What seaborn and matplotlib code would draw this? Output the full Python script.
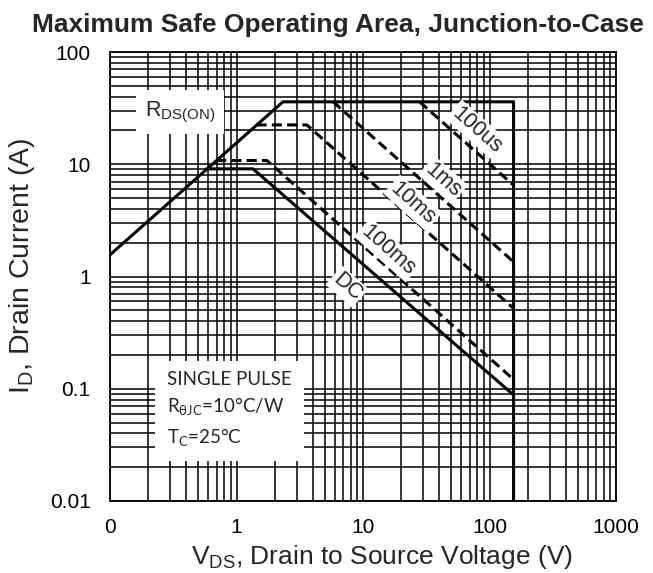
import matplotlib
matplotlib.use("Agg")
import matplotlib.pyplot as plt
import seaborn as sns
import numpy as np
from matplotlib.ticker import FixedLocator, FixedFormatter, LogLocator, NullFormatter

# ---------------- data ----------------
env_v = [0.1, 2.33, 155, 155]
env_i = [1.56, 36, 36, 0.01]
us100_v = [28, 155]
us100_i = [36, 6.5]
ms1_v = [5.8, 155]
ms1_i = [36, 1.35]
ms10_v = [1.44, 3.6, 155]
ms10_i = [22.4, 22.4, 0.52]
ms100_v = [0.69, 1.74, 155]
ms100_i = [10.8, 10.8, 0.121]
dc_v = [0.58, 1.35, 155]
dc_i = [9.1, 9.1, 0.088]

x_ticks = [0.1, 1, 10, 100, 1000]
x_labels = ["0", "1", "10", "100", "1000"]
y_ticks = [0.01, 0.1, 1, 10, 100]
y_labels = ["0.01", "0.1", "1", "10", "100"]

curve_names = ["100us", "1ms", "10ms", "100ms", "DC"]
name_v = [79.6, 42.9, 24.8, 15.8, 7.48]
name_i = [20.2, 7.24, 4.52, 1.72, 0.81]

title = "Maximum Safe Operating Area, Junction-to-Case"
xlabel = r"V$_\mathregular{DS}$, Drain to Source Voltage (V)"
ylabel = r"I$_\mathregular{D}$, Drain Current (A)"
note = "SINGLE PULSE\nR$_\\mathregular{θJC}$=10°C/W\nT$_\\mathregular{C}$=25°C"

# ---------------- style ----------------
sns.set_style("white")
plt.rcParams["font.family"] = ["Liberation Sans", "DejaVu Sans"]

fig = plt.figure(figsize=(6.53, 5.73), dpi=100)
ax = fig.add_axes([110 / 653, 1 - 501 / 573, 506 / 653, 449 / 573])

LW = 2.2
dash = (0, (3.3, 1.7))
series = [
    (env_v, env_i, "-"),
    (us100_v, us100_i, dash),
    (ms1_v, ms1_i, dash),
    (ms10_v, ms10_i, dash),
    (ms100_v, ms100_i, dash),
    (dc_v, dc_i, "-"),
]
for xv, yv, ls in series:
    sns.lineplot(x=xv, y=yv, ax=ax, color="black", linewidth=LW,
                 linestyle=ls, sort=False, estimator=None, zorder=3)

ax.set_xscale("log")
ax.set_yscale("log")
ax.set_xlim(0.1, 1000)
ax.set_ylim(0.01, 100)

ax.xaxis.set_major_locator(FixedLocator(x_ticks))
ax.xaxis.set_major_formatter(FixedFormatter(x_labels))
ax.yaxis.set_major_locator(FixedLocator(y_ticks))
ax.yaxis.set_major_formatter(FixedFormatter(y_labels))
ax.xaxis.set_minor_locator(LogLocator(base=10, subs=np.arange(2, 10)))
ax.yaxis.set_minor_locator(LogLocator(base=10, subs=np.arange(2, 10)))
ax.xaxis.set_minor_formatter(NullFormatter())
ax.yaxis.set_minor_formatter(NullFormatter())

ax.set_axisbelow(True)
ax.grid(which="both", color="black", linewidth=1.1)
ax.tick_params(which="both", length=0, labelsize=15, colors="black")
ax.tick_params(axis="y", pad=14)
ax.tick_params(axis="x", pad=12)
for s in ax.spines.values():
    s.set_color("black")
    s.set_linewidth(1.3)

ax.set_xlabel(xlabel, fontsize=19)
ax.set_ylabel(ylabel, fontsize=20.5)
ax.xaxis.set_label_coords(0.537, (501 - 557) / 449)
ax.xaxis.label.set_va("center")
ax.yaxis.set_label_coords((22 - 110) / 506, (501 - 266) / 449)
ax.yaxis.label.set_va("center")

fig.text(338 / 653, 1 - 32 / 573, title, ha="center", va="baseline",
         fontsize=19, fontweight="bold")

# curve names
for name, xv, yv in zip(curve_names, name_v, name_i):
    ax.text(xv, yv, name, rotation=-41.6, rotation_mode="anchor",
            ha="center", va="center", fontsize=15.5, zorder=5,
            bbox=dict(facecolor="white", edgecolor="none", pad=1.5))

# RDS(ON) label
ax.text(0.357, 29.2, r"R$_\mathregular{DS(ON)}$", ha="center", va="center",
        fontsize=15.5, zorder=5,
        bbox=dict(boxstyle="square,pad=0.42", facecolor="white", edgecolor="none"))

# conditions box
ax.text((167 - 110) / 506, (501 - 410) / 449, note, transform=ax.transAxes,
        ha="left", va="center", fontsize=13.5, linespacing=1.5,
        family=["Lato", "DejaVu Sans"], zorder=5,
        bbox=dict(boxstyle="square,pad=0.65", facecolor="white", edgecolor="none"))

fig.savefig("out.png", dpi=100)
